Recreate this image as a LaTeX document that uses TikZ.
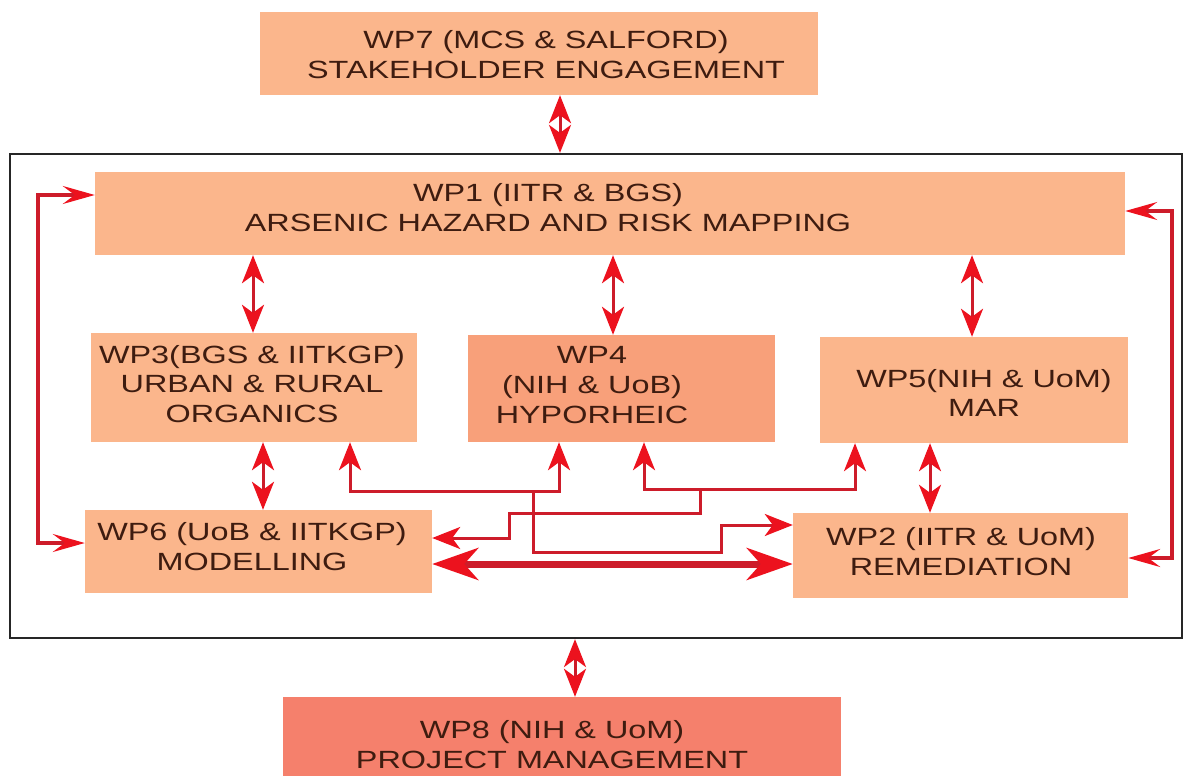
\documentclass[tikz,border=0pt]{standalone}
\usepackage{fontspec}
\setmainfont{Liberation Sans}[FakeStretch=1.3]
\usetikzlibrary{arrows.meta}
\definecolor{wpLight}{RGB}{251,182,140}
\definecolor{wpMid}{RGB}{248,160,122}
\definecolor{wpDark}{RGB}{245,128,108}
\definecolor{wpText}{RGB}{62,28,16}
\definecolor{linkRed}{RGB}{205,28,42}
\definecolor{tipRed}{RGB}{236,18,30}

\begin{document}
\begin{tikzpicture}[x=1bp, y=-1bp,
    >={Stealth[length=28bp, width=22bp, inset=8bp, color=tipRed]},
    wpbox/.style={rectangle, fill=wpLight, inner sep=0pt},
    wptext/.style={align=center, text=wpText, inner sep=0pt, font=\fontsize{25}{30}\selectfont},
    link/.style={draw=linkRed, line width=3bp},
    loop/.style={link, line width=3.5bp, >={Stealth[length=32bp, width=18bp, inset=12bp, color=tipRed]}},
    biglink/.style={draw=linkRed, line width=7bp, >={Stealth[length=46bp, width=32bp, inset=14bp, color=tipRed]}}]
    \useasboundingbox (0,0) rectangle (1184,776);
    % Work package boxes
    \node[rectangle, draw=black!85, line width=2.2bp, minimum width=1172bp, minimum height=484bp] (core) at (596,396) {};
    \node[wpbox, minimum width=558bp, minimum height=83bp] (wp7) at (539,53.5) {};
    \node[wpbox, minimum width=1030bp, minimum height=83bp] (wp1) at (610,213.5) {};
    \node[wpbox, minimum width=326bp, minimum height=109bp] (wp3) at (254,387.5) {};
    \node[wpbox, fill=wpMid, minimum width=307bp, minimum height=107bp] (wp4) at (621.5,388.5) {};
    \node[wpbox, minimum width=308bp, minimum height=106bp] (wp5) at (974,390) {};
    \node[wpbox, minimum width=347bp, minimum height=83bp] (wp6) at (258.5,551.5) {};
    \node[wpbox, minimum width=335bp, minimum height=85bp] (wp2) at (960.5,555.5) {};
    \node[wpbox, fill=wpDark, minimum width=558bp, minimum height=79bp] (wp8) at (562,736.5) {};

    \node[wptext] (wp7txt) at (546,55) {WP7 (MCS \& SALFORD)\\STAKEHOLDER ENGAGEMENT};
    \node[wptext] (wp1txt) at (548,208) {WP1 (IITR \& BGS)\\ARSENIC HAZARD AND RISK MAPPING};
    \node[wptext] (wp3txt) at (252,384) {WP3(BGS \& IITKGP)\\URBAN \& RURAL\\ORGANICS};
    \node[wptext] (wp4txt) at (592,385) {WP4\\(NIH \& UoB)\\HYPORHEIC};
    \node[wptext] (wp5txt) at (984,393) {WP5(NIH \& UoM)\\MAR};
    \node[wptext] (wp6txt) at (252,547) {WP6 (UoB \& IITKGP)\\MODELLING};
    \node[wptext] (wp2txt) at (961,552) {WP2 (IITR \& UoM)\\REMEDIATION};
    \node[wptext] (wp8txt) at (552,745) {WP8 (NIH \& UoM)\\PROJECT MANAGEMENT};

    % Vertical links
    \draw[link, <->] (560,0 |- wp7.south) -- (560,0 |- core.north);
    \draw[link, <->] (253,0 |- wp1.south) -- (253,0 |- wp3.north);
    \draw[link, <->] (613,0 |- wp1.south) -- (613,0 |- wp4.north);
    \draw[link, <->] (972,0 |- wp1.south) -- (972,0 |- wp5.north);
    \draw[link, <->] (263,0 |- wp3.south) -- (263,0 |- wp6.north);
    \draw[link, <->] (930,0 |- wp5.south) -- (930,0 |- wp2.north);
    \draw[link, <->] (575,0 |- core.south) -- (575,0 |- wp8.north);

    % Side loops
    \draw[loop, <->] (wp1.west |- 0,195) -| (38,543) -- (wp6.west |- 0,543);
    \draw[loop, <->] (wp1.east |- 0,211) -| (1172,558) -- (wp2.east |- 0,558);

    % Cross links
    \draw[link, <->] (350,0 |- wp3.south) |- (559,491) -- (559,0 |- wp4.south);
    \draw[link, ->] (533,491) |- (721,552) |- (wp2.west |- 0,525);
    \draw[link, <->] (644,0 |- wp4.south) |- (855,489) -- (855,0 |- wp5.south);
    \draw[link, ->] (700,489) |- (509,513) |- (wp6.east |- 0,538);
    \draw[biglink, <->] (wp6.east |- 0,564) -- (wp2.west |- 0,564);
\end{tikzpicture}
\end{document}
